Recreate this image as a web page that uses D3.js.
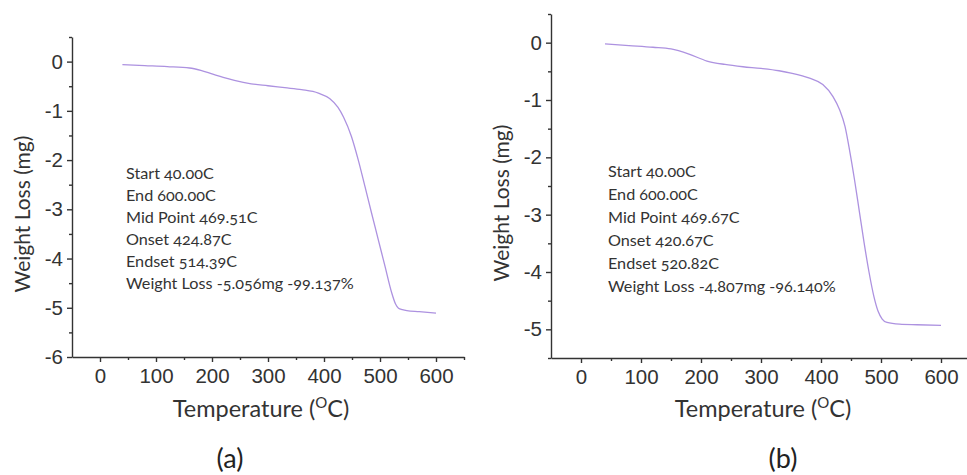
<!DOCTYPE html>
<html>
<head>
<meta charset="utf-8">
<script src="https://cdn.jsdelivr.net/npm/d3@7"></script>
<style>
  html, body { margin: 0; padding: 0; background: #fff; }
  svg { display: block; font-family: "Lato", "Open Sans", sans-serif; font-variant-numeric: oldstyle-nums; font-feature-settings: "onum" 1; }
  .axis path, .axis line { stroke: #333; stroke-width: 1.4; }
  .axis text { fill: #333; font-size: 20.5px; }
</style>
</head>
<body>
<svg id="chart" width="967" height="475"></svg>
<script>
// ---- data ----
const tempA = [40, 80, 120, 160, 180, 200, 220, 240, 270, 300, 330, 360, 390, 410, 425, 435, 449, 461, 473, 485, 497, 509, 521, 528, 533, 540, 548, 570, 600];
const lossA = [-0.06, -0.08, -0.10, -0.13, -0.18, -0.25, -0.32, -0.38, -0.45, -0.49, -0.53, -0.57, -0.64, -0.75, -0.93, -1.13, -1.52, -1.99, -2.53, -3.08, -3.62, -4.16, -4.70, -4.93, -5.01, -5.04, -5.06, -5.08, -5.11];

const tempB = [40, 80, 120, 150, 180, 210, 240, 270, 300, 330, 350, 381, 403, 420, 431, 440, 448, 456, 464, 472, 480, 488, 495, 502, 510, 531, 560, 600];
const lossB = [-0.02, -0.05, -0.08, -0.11, -0.20, -0.32, -0.38, -0.42, -0.45, -0.49, -0.53, -0.62, -0.73, -0.94, -1.17, -1.46, -1.90, -2.40, -2.95, -3.50, -4.00, -4.42, -4.68, -4.82, -4.88, -4.91, -4.92, -4.93];

const xTicks = [0, 100, 200, 300, 400, 500, 600];
const xMinorTicks = [50, 150, 250, 350, 450, 550, 650];
const yTicksA = [0, -1, -2, -3, -4, -5, -6];
const yMinorA = [0.5, -0.5, -1.5, -2.5, -3.5, -4.5, -5.5];
const yTicksB = [0, -1, -2, -3, -4, -5];
const yMinorB = [0.5, -0.5, -1.5, -2.5, -3.5, -4.5, -5.5];

const notesA = ["Start 40.00C", "End 600.00C", "Mid Point 469.51C", "Onset 424.87C", "Endset 514.39C", "Weight Loss -5.056mg -99.137%"];
const notesB = ["Start 40.00C", "End 600.00C", "Mid Point 469.67C", "Onset 420.67C", "Endset 520.82C", "Weight Loss -4.807mg -96.140%"];

const xTitle = "Temperature";
const yTitle = "Weight Loss (mg)";
const panelLabels = ["(a)", "(b)"];

// ---- drawing ----
const svg = d3.select("#chart");

function panel(cfg) {
  const x = d3.scaleLinear().domain([-50, 650]).range(cfg.xRange);
  const y = d3.scaleLinear().domain(cfg.yDomain).range(cfg.yRange);
  const g = svg.append("g");
  const y0 = cfg.yRange[0], x0 = cfg.xRange[0];

  // x axis
  g.append("g").attr("class", "axis").attr("transform", `translate(0,${y0})`)
    .call(d3.axisBottom(x).tickValues(xTicks).tickSize(5).tickSizeOuter(0).tickPadding(6).tickFormat(d => String(d)));
  g.append("g").attr("class", "axis").attr("transform", `translate(0,${y0})`)
    .call(d3.axisBottom(x).tickValues(xMinorTicks).tickSize(3).tickSizeOuter(0).tickFormat(""))
    .select(".domain").remove();

  // y axis
  g.append("g").attr("class", "axis").attr("transform", `translate(${x0},0)`)
    .call(d3.axisLeft(y).tickValues(cfg.yTicks).tickSize(5).tickSizeOuter(0).tickPadding(4).tickFormat(d => String(d)));
  g.append("g").attr("class", "axis").attr("transform", `translate(${x0},0)`)
    .call(d3.axisLeft(y).tickValues(cfg.yMinor).tickSize(3).tickSizeOuter(0).tickFormat(""))
    .select(".domain").remove();

  // curve
  const pts = cfg.temps.map((t, i) => [t, cfg.loss[i]]);
  g.append("path")
    .datum(pts)
    .attr("fill", "none")
    .attr("stroke", "#ad92e0")
    .attr("stroke-width", 1.3)
    .attr("d", d3.line().x(d => x(d[0])).y(d => y(d[1])).curve(d3.curveMonotoneX));

  // annotations
  const t = g.append("text").attr("x", cfg.noteX).attr("y", cfg.noteY)
    .attr("fill", "#333").style("font-size", "16.2px");
  cfg.notes.forEach((s, i) => {
    t.append("tspan").attr("x", cfg.noteX).attr("dy", i === 0 ? 0 : cfg.noteDy).text(s);
  });

  // x title
  const xt = g.append("text").attr("x", cfg.xTitleX).attr("y", 417)
    .attr("text-anchor", "middle").attr("fill", "#333").style("font-size", "23.5px");
  xt.append("tspan").text(xTitle + " (");
  xt.append("tspan").attr("dy", -9).style("font-size", "15px").text("O");
  xt.append("tspan").attr("dy", 9).text("C)");

  // y title
  g.append("text")
    .attr("transform", `translate(${cfg.yTitleX},${cfg.yTitleY}) rotate(-90)`)
    .attr("text-anchor", "middle").attr("fill", "#333").style("font-size", "21px")
    .text(yTitle);

  // panel label
  g.append("text").attr("x", cfg.labelX).attr("y", 468)
    .attr("text-anchor", "middle").attr("fill", "#222").style("font-size", "27px")
    .text(cfg.label);
}

panel({
  xRange: [72, 464], yDomain: [-6, 0.5], yRange: [357, 37],
  yTicks: yTicksA, yMinor: yMinorA, temps: tempA, loss: lossA,
  notes: notesA, noteX: 126, noteY: 179, noteDy: 22,
  xTitleX: 261, yTitleX: 30, yTitleY: 214, labelX: 230, label: panelLabels[0]
});

panel({
  xRange: [551, 971], yDomain: [-5.5, 0.5], yRange: [358, 14],
  yTicks: yTicksB, yMinor: yMinorB, temps: tempB, loss: lossB,
  notes: notesB, noteX: 608, noteY: 177, noteDy: 23,
  xTitleX: 763, yTitleX: 509, yTitleY: 203, labelX: 783, label: panelLabels[1]
});
</script>
</body>
</html>
